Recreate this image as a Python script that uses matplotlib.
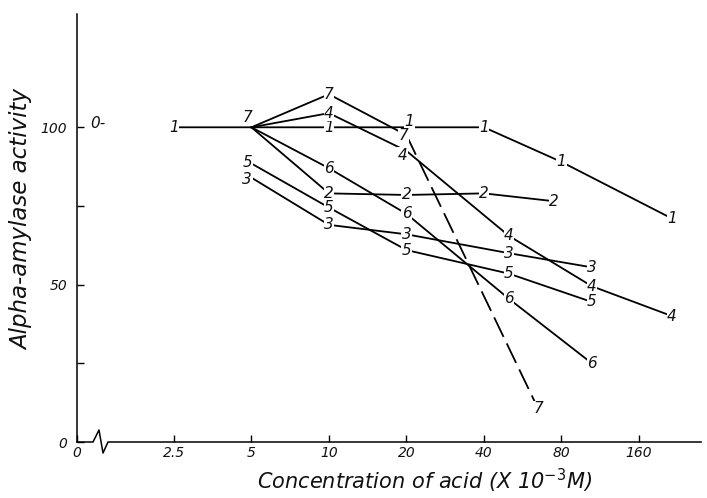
import numpy as np
import matplotlib
matplotlib.use("Agg")
import matplotlib.pyplot as plt

# ---------------- data ----------------
x_ticks = [0, 2.5, 5, 10, 20, 40, 80, 160]
x_tick_labels = ["0", "2.5", "5", "10", "20", "40", "80", "160"]
y_ticks = [0, 25, 50, 75, 100]
y_tick_labels = ["0", "", "50", "", "100"]

s1_x = [2.5, 5, 10, 20, 40, 80, 215]
s1_y = [100, 100, 100, 100, 100, 89, 71]
s2_x = [5, 10, 20, 40, 75]
s2_y = [100, 79, 78.5, 79, 76.5]
s3_x = [5, 10, 20, 50, 105]
s3_y = [84, 69, 66, 60, 55.5]
s4_x = [5, 10, 20, 50, 105, 215]
s4_y = [100, 104.5, 92.5, 65.5, 49.5, 40]
s5_x = [5, 10, 20, 50, 105]
s5_y = [88.5, 74.5, 61, 53.5, 44.5]
s6_x = [5, 10, 20, 50, 105]
s6_y = [100, 87, 72.5, 45.5, 25]
s7_x = [5, 10, 20, 65]
s7_y = [100, 110.5, 97.5, 10.5]

control_x = 0
control_y = 100

series = [
    ("1", s1_x, s1_y),
    ("2", s2_x, s2_y),
    ("3", s3_x, s3_y),
    ("4", s4_x, s4_y),
    ("5", s5_x, s5_y),
    ("6", s6_x, s6_y),
    ("7", s7_x, s7_y),
]

# ---------------- figure ----------------
fig = plt.figure(figsize=(7.07, 4.98), dpi=100)
ax = fig.add_axes([77 / 707, 56 / 498, 624 / 707, 428 / 498])


def fwd(c):
    c = np.asarray(c, dtype=float)
    u = np.log2(np.maximum(c, 1e-12) / 2.5)
    return np.maximum(u, -1.25)


def inv(u):
    return 2.5 * 2.0 ** np.asarray(u, dtype=float)


ax.set_xscale("function", functions=(fwd, inv))
ax.set_xlim(0, float(inv(6.8)))
ax.set_ylim(0, 136)

for sp in ["top", "right", "bottom"]:
    ax.spines[sp].set_visible(False)
ax.spines["left"].set_linewidth(1.1)

font = dict(family="DejaVu Sans", style="italic", color="#111111")

ax.set_xticks(x_ticks)
ax.set_xticklabels(x_tick_labels, fontsize=10, fontstyle="italic", color="#111111")
ax.set_yticks(y_ticks)
ax.set_yticklabels(y_tick_labels, fontsize=10, fontstyle="italic", color="#111111")
ax.xaxis.set_minor_locator(matplotlib.ticker.NullLocator())
ax.tick_params(axis="x", direction="in", length=5, width=1, pad=3)
ax.tick_params(axis="y", direction="in", length=5, width=1, pad=7)

# x axis line with break symbol (axes fraction)
brk_x = [0, 16 / 624, 22 / 624, 26 / 624, 31 / 624, 1]
brk_y = [0, 0, 12 / 428, -11 / 428, 0, 0]
ax.plot(brk_x, brk_y, transform=ax.transAxes, color="k", lw=1.1, clip_on=False)

# lines
lw = 1.3
for name, xs, ys in series:
    if name == "7":
        ax.plot(xs[:3], ys[:3], color="k", lw=lw, zorder=2)
        ax.plot(xs[2:], ys[2:], color="k", lw=lw, dashes=(12, 4), zorder=2)
    else:
        ax.plot(xs, ys, color="k", lw=lw, zorder=2)

# point labels
bbox = dict(boxstyle="square,pad=0.03", fc="white", ec="none")
hidden = {("1", 5), ("2", 5), ("4", 5), ("6", 5)}
offsets = {("7", 5): (-3, 7), ("5", 5): (-3, 1), ("3", 5): (-3, -1),
           ("1", 20): (2, 4), ("7", 20): (-2, -0.5), ("4", 20): (-3, -3)}
for name, xs, ys in series:
    for xv, yv in zip(xs, ys):
        if (name, xv) in hidden:
            continue
        off = offsets.get((name, xv), (0, 0))
        ax.annotate(name, (xv, yv), xytext=off, textcoords="offset points",
                    ha="center", va="center", fontsize=11, zorder=3,
                    bbox=bbox, **font)

# control point
ax.annotate("0-", (control_x, control_y), xytext=(15, 3), textcoords="offset points",
            ha="center", va="center", fontsize=11, zorder=3, **font)

# axis titles
fig.text(22 / 707, 1 - 219 / 498, "Alpha-amylase activity", rotation=90,
         ha="center", va="center", fontsize=16.5, **font)
fig.text(425 / 707, 1 - 481 / 498, r"Concentration of acid (X 10$^{-3}$M)",
         ha="center", va="center", fontsize=15, **font)

fig.savefig("out.png", dpi=100)
